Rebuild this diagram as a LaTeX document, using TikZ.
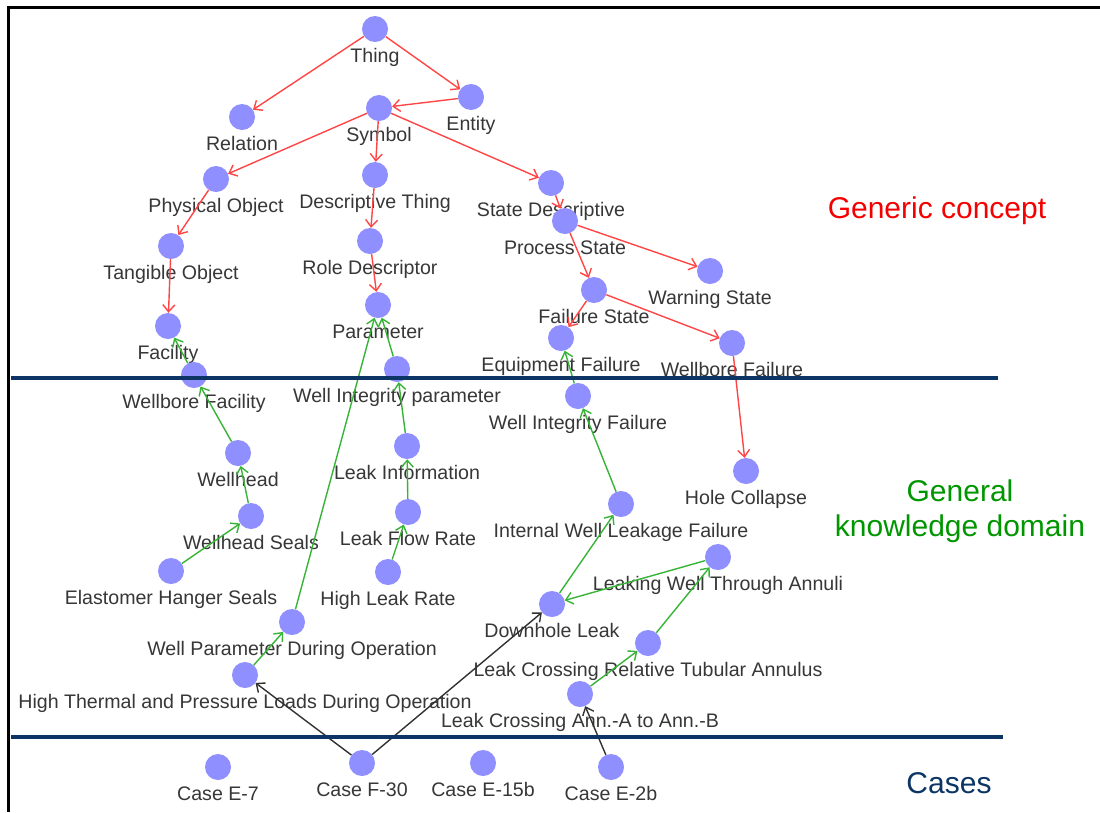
\documentclass[tikz,border=0pt]{standalone}
\usepackage{fontspec}
\setmainfont{Liberation Sans}
\usetikzlibrary{arrows.meta}

\definecolor{dotblue}{RGB}{143,143,255}
\definecolor{isared}{RGB}{255,70,70}
\definecolor{partgreen}{RGB}{55,180,55}
\definecolor{casegray}{RGB}{50,50,50}
\definecolor{labelgray}{RGB}{55,55,55}
\definecolor{bandnavy}{RGB}{12,52,100}
\definecolor{titlered}{RGB}{245,0,0}
\definecolor{titlegreen}{RGB}{0,150,0}

\tikzset{
  dot/.style={circle, fill=dotblue, draw=none, minimum size=26pt, inner sep=0pt},
  lbl/.style={text=labelgray, inner sep=0pt, anchor=base, font=\fontsize{19.6}{22}\selectfont},
  tip/.style={-{Straight Barb[length=7pt,width=12pt]}},
  isa/.style={tip, draw=isared, line width=1.4pt},
  part/.style={tip, draw=partgreen, line width=1.4pt},
  caselink/.style={tip, draw=casegray, line width=1.4pt},
  band/.style={draw=bandnavy, line width=3.5pt},
  title/.style={font=\fontsize{30}{35}\selectfont, align=center, inner sep=0pt},
}

% concept node: name, x, y, text (text sits under the dot)
\newcommand\concept[4]{%
  \node[dot] (#1) at (#2,#3) {};
  \node[lbl] (#1-t) at (#2,#3+33) {#4};
}

\begin{document}
\begin{tikzpicture}[x=1pt,y=-1pt]
\useasboundingbox (0,0) rectangle (1100,812);
\fill[white] (0,0) rectangle (1100,812);

% frame
\draw[line width=3pt] (8,812) -- (8,7) -- (1100,7);

% generic concepts
\concept{thing}{375}{29}{Thing}
\concept{entity}{471}{97}{Entity}
\concept{relation}{242}{117}{Relation}
\concept{symbol}{379}{108}{Symbol}
\concept{physobj}{216}{179}{Physical Object}
\concept{descthing}{375}{175}{Descriptive Thing}
\concept{statedesc}{551}{183}{State Descriptive}
\concept{tangible}{171}{246}{Tangible Object}
\concept{roledesc}{370}{241}{Role Descriptor}
\concept{process}{565}{221}{Process State}
\concept{warning}{710}{271}{Warning State}
\concept{failure}{594}{290}{Failure State}
\concept{facility}{168}{326}{Facility}
\concept{parameter}{378}{305}{Parameter}
\concept{equipfail}{561}{338}{Equipment Failure}
\concept{wbfail}{732}{343}{Wellbore Failure}

% general domain knowledge
\concept{wbfacility}{194}{375}{Wellbore Facility}
\concept{wip}{397}{369}{Well Integrity parameter}
\concept{wif}{578}{396}{Well Integrity Failure}
\concept{wellhead}{238}{453}{Wellhead}
\concept{leakinfo}{407}{446}{Leak Information}
\concept{hole}{746}{471}{Hole Collapse}
\concept{whseals}{251}{516}{Wellhead Seals}
\concept{leakflow}{408}{512}{Leak Flow Rate}
\concept{iwlf}{621}{504}{Internal Well Leakage Failure}
\concept{annuli}{718}{557}{Leaking Well Through Annuli}
\concept{elastomer}{171}{571}{Elastomer Hanger Seals}
\concept{highleak}{388}{572}{High Leak Rate}
\concept{downhole}{552}{604}{Downhole Leak}
\concept{wpdo}{292}{622}{Well Parameter During Operation}
\concept{lcrta}{648}{643}{Leak Crossing Relative Tubular Annulus}
\concept{htpl}{245}{675}{High Thermal and Pressure Loads During Operation}
\concept{lcab}{580}{694}{Leak Crossing Ann.-A to Ann.-B}

% cases
\concept{e7}{218}{767}{Case E-7}
\concept{f30}{362}{763}{Case F-30}
\concept{e15b}{483}{763}{Case E-15b}
\concept{e2b}{611}{767}{Case E-2b}

% is-a links
\draw[isa] (thing) -- (relation);
\draw[isa] (thing) -- (entity);
\draw[isa] (entity) -- (symbol);
\draw[isa] (symbol) -- (physobj);
\draw[isa] (symbol) -- (descthing);
\draw[isa] (symbol) -- (statedesc);
\draw[isa] (physobj) -- (tangible);
\draw[isa] (descthing) -- (roledesc);
\draw[isa] (tangible) -- (facility);
\draw[isa] (roledesc) -- (parameter);
\draw[isa] (statedesc) -- (process);
\draw[isa] (process) -- (warning);
\draw[isa] (process) -- (failure);
\draw[isa] (failure) -- (equipfail);
\draw[isa] (failure) -- (wbfail);
\draw[isa] (wbfail) -- (hole);

% domain links
\draw[part] (wbfacility) -- (facility);
\draw[part] (wellhead) -- (wbfacility);
\draw[part] (whseals) -- (wellhead);
\draw[part] (elastomer) -- (whseals);
\draw[part] (wpdo) -- (parameter);
\draw[part] (wip) -- (parameter);
\draw[part] (leakinfo) -- (wip);
\draw[part] (leakflow) -- (leakinfo);
\draw[part] (highleak) -- (leakflow);
\draw[part] (htpl) -- (wpdo);
\draw[part] (wif) -- (equipfail);
\draw[part] (iwlf) -- (wif);
\draw[part] (downhole) -- (iwlf);
\draw[part] (annuli) -- (downhole);
\draw[part] (lcrta) -- (annuli);
\draw[part] (lcab) -- (lcrta);

% case links
\draw[caselink] (f30) -- (htpl);
\draw[caselink] (f30) -- (downhole);
\draw[caselink] (e2b) -- (lcab);

% layer separators
\draw[band] (11,378) -- (998,378);
\draw[band] (11,737) -- (1003,737);

% layer titles
\node[title, text=titlered] (generic) at (937,211) {Generic concept};
\node[title, text=titlegreen] (general) at (960,511) {General\\knowledge domain};
\node[title, text=bandnavy] (cases) at (949,783) {Cases};
\end{tikzpicture}
\end{document}
